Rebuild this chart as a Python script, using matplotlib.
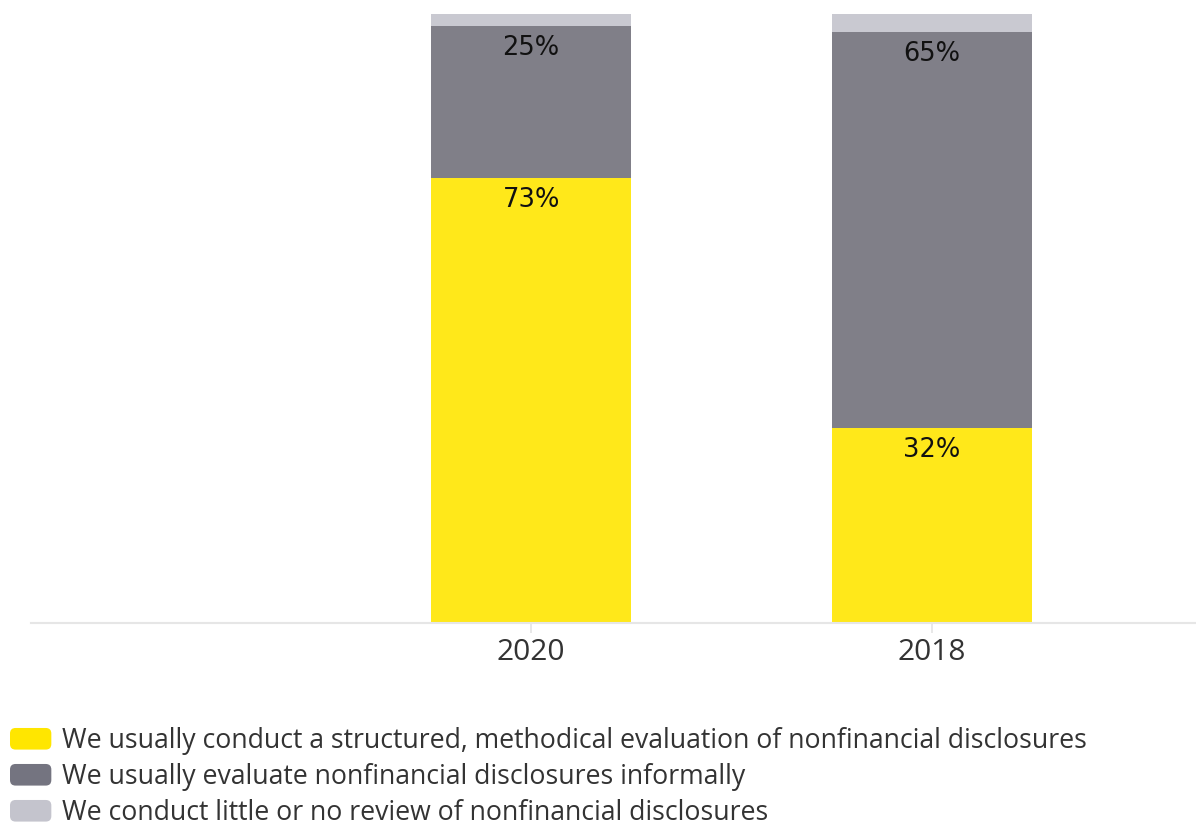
import matplotlib
matplotlib.use("Agg")
import matplotlib.pyplot as plt
from matplotlib.patches import FancyBboxPatch, Patch
from matplotlib.legend_handler import HandlerPatch

years = ["2020", "2018"]
structured = [73, 32]
informal = [25, 65]
little = [2, 3]

series_names = [
    "We usually conduct a structured, methodical evaluation of nonfinancial disclosures",
    "We usually evaluate nonfinancial disclosures informally",
    "We conduct little or no review of nonfinancial disclosures",
]
bar_colors = ["#ffe81a", "#807f88", "#c9c9d1"]
swatch_colors = ["#ffe600", "#747480", "#c4c4cd"]

W, H = 1196, 823
fig = plt.figure(figsize=(W / 100, H / 100), dpi=100)
ax = fig.add_axes([31 / W, 1 - 623 / H, (W - 31) / W, (623 - 14) / H])

x = list(range(len(years)))
width = 0.5
stacks = [structured, informal, little]
bottom = [0] * len(years)
for vals, col in zip(stacks, bar_colors):
    ax.bar(x, vals, width, bottom=bottom, color=col, linewidth=0)
    # value labels near the top of the two main segments
    if col != bar_colors[2]:
        for xi, b, v in zip(x, bottom, vals):
            ax.annotate(f"{v}%", xy=(xi, b + v), xytext=(0, -9),
                        textcoords="offset pixels", ha="center", va="top",
                        fontsize=18.5, color="#111111", family="DejaVu Sans")
    bottom = [b + v for b, v in zip(bottom, vals)]

ax.set_ylim(0, 100)
ax.set_xlim(-1.247, 1.658)
ax.set_xticks(x)
ax.set_xticklabels(years, fontsize=21.5, color="#333333", family="Open Sans")
ax.tick_params(axis="x", length=7, width=1.2, color="#e4e4e4", pad=4)
ax.tick_params(axis="y", left=False, labelleft=False)
for s in ["top", "right", "left"]:
    ax.spines[s].set_visible(False)
ax.spines["bottom"].set_color("#e6e6e6")
ax.spines["bottom"].set_linewidth(1.5)


class RoundedSwatch(HandlerPatch):
    def create_artists(self, legend, orig_handle, xdescent, ydescent,
                       width, height, fontsize, trans):
        p = FancyBboxPatch((-xdescent + 2, -ydescent + 2), width - 4, height - 4,
                           boxstyle="round,pad=2,rounding_size=4",
                           facecolor=orig_handle.get_facecolor(),
                           edgecolor="none", transform=trans)
        return [p]


handles = [Patch(facecolor=c) for c in swatch_colors]
leg = fig.legend(handles, series_names, loc="upper left",
                 bbox_to_anchor=(10 / W, 1 - 727 / H),
                 frameon=False, prop={"family": "Open Sans", "size": 19.2},
                 handler_map={Patch: RoundedSwatch()},
                 handlelength=1.55, handleheight=0.87, handletextpad=0.4,
                 labelspacing=0.3, borderpad=0, borderaxespad=0)
for t in leg.get_texts():
    t.set_color("#333333")

fig.savefig("out.png", dpi=100)
